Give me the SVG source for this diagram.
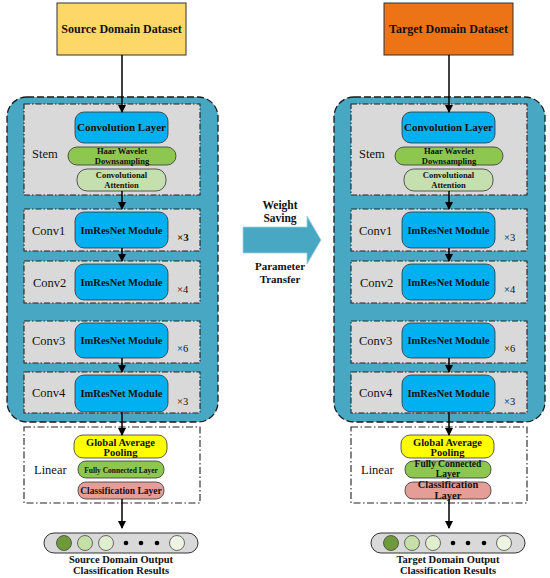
<svg xmlns="http://www.w3.org/2000/svg" width="550" height="578" viewBox="0 0 550 578">
<defs>
<marker id="ah" markerWidth="8" markerHeight="8" refX="7" refY="4" orient="auto" markerUnits="userSpaceOnUse">
<path d="M0,0 L8,4 L0,8 Z" fill="#000"/>
</marker>
<style>
text{font-family:"Liberation Serif","DejaVu Serif",serif;fill:#111;}
.b{font-weight:bold;}
.c{text-anchor:middle;}
.teal{fill:#48A8C4;stroke:#1a1a1a;stroke-width:1.3;stroke-dasharray:7,3;}
.stage{fill:#D9D9D9;stroke:#222;stroke-width:1.1;stroke-dasharray:6,2,1.5,2;}
.lin{fill:#fff;stroke:#222;stroke-width:1.1;stroke-dasharray:7,2.5,1.5,2.5;}
.mod{fill:#00B0F0;stroke:#333;stroke-width:0.8;}
.haar{fill:#8DC74F;stroke:#333;stroke-width:0.8;}
.att{fill:#C5DFAE;stroke:#333;stroke-width:0.8;}
.gap{fill:#FFFF00;stroke:#333;stroke-width:0.8;}
.fc{fill:#8DC74F;stroke:#333;stroke-width:0.8;}
.cls{fill:#E59E97;stroke:#333;stroke-width:0.8;}
.out{fill:#D9D9D9;stroke:#333;stroke-width:1;}
.conn{stroke:#000;stroke-width:1.5;fill:none;marker-end:url(#ah);}
.lbl{font-size:12.5px;}
</style>
</defs>
<rect width="550" height="578" fill="#fff"/>

<!-- LEFT COLUMN -->
<g id="source-dataset"><rect x="57" y="3" width="129" height="52" fill="#FDD868" stroke="#333" stroke-width="1"/><text x="121.5" y="33" class="b c" font-size="12">Source Domain Dataset</text></g>
<g id="left-backbone"><rect x="7" y="97" width="211" height="325" rx="20" class="teal"/></g>
<g id="left-stem">
<rect x="24" y="104" width="176" height="91" class="stage"/>
<text x="32" y="158" class="lbl">Stem</text>
<rect x="75" y="112" width="93" height="31" rx="9" class="mod"/>
<text x="121.5" y="131" class="b c" font-size="11">Convolution Layer</text>
<rect x="68" y="147" width="108" height="18" rx="9" class="haar"/>
<text x="122" y="154" class="b c" font-size="8.5">Haar Wavelet</text>
<text x="122" y="164" class="b c" font-size="8.5">Downsampling</text>
<rect x="77" y="169" width="89" height="22" rx="10" class="att"/>
<text x="121.5" y="178" class="b c" font-size="8.5">Convolutional</text>
<text x="121.5" y="188" class="b c" font-size="8.5">Attention</text>
</g>
<g id="left-conv1"><rect x="24" y="209" width="176" height="42" class="stage"/><text x="32" y="235" class="lbl">Conv1</text><rect x="75" y="212" width="93" height="36" rx="9" class="mod"/><text x="121.5" y="234" class="b c" font-size="10.5">ImResNet Module</text><text x="177" y="241" class="b" font-size="11">×3</text></g>
<g id="left-conv2"><rect x="24" y="261" width="176" height="42" class="stage"/><text x="33" y="287" class="lbl">Conv2</text><rect x="75" y="264" width="93" height="36" rx="9" class="mod"/><text x="121.5" y="286" class="b c" font-size="10.5">ImResNet Module</text><text x="177" y="293" font-size="10.5">×4</text></g>
<g id="left-conv3"><rect x="24" y="321" width="176" height="42" class="stage"/><text x="32" y="345" class="lbl">Conv3</text><rect x="75" y="323" width="93" height="35" rx="9" class="mod"/><text x="121.5" y="344" class="b c" font-size="10.5">ImResNet Module</text><text x="177" y="352" font-size="10.5">×6</text></g>
<g id="left-conv4"><rect x="24" y="372" width="176" height="41" class="stage"/><text x="32" y="397" class="lbl">Conv4</text><rect x="75" y="375" width="93" height="37" rx="9" class="mod"/><text x="121.5" y="397" class="b c" font-size="10.5">ImResNet Module</text><text x="177" y="405" font-size="10.5">×3</text></g>
<g id="left-linear">
<rect x="24" y="427" width="176" height="76" class="lin"/>
<text x="34" y="474" class="lbl">Linear</text>
<rect x="74" y="435" width="93" height="23" rx="9" class="gap"/>
<text x="120.5" y="446" class="b c" font-size="10.5">Global Average</text>
<text x="120.5" y="456" class="b c" font-size="10.5">Pooling</text>
<rect x="78" y="461" width="86" height="17" rx="8" class="fc"/>
<text x="121" y="473" class="b c" font-size="7.5">Fully Connected Layer</text>
<rect x="78" y="482" width="86" height="17" rx="8" class="cls"/>
<text x="121" y="494" class="b c" font-size="9.5">Classification Layer</text>
</g>
<g id="left-output">
<rect x="44" y="533" width="154" height="20" rx="10" class="out"/>
<circle cx="64" cy="543" r="7.5" fill="#6E9A3C" stroke="#333" stroke-width="0.7"/>
<circle cx="85" cy="543" r="7.5" fill="#C6DFA9" stroke="#333" stroke-width="0.7"/>
<circle cx="106" cy="543" r="7.5" fill="#E0EDCF" stroke="#333" stroke-width="0.7"/>
<circle cx="126" cy="543" r="2.3" fill="#000"/>
<circle cx="141" cy="543" r="2.3" fill="#000"/>
<circle cx="157" cy="543" r="2.3" fill="#000"/>
<circle cx="177" cy="543" r="7.5" fill="#EEF4E4" stroke="#333" stroke-width="0.7"/>
<text x="121" y="563" class="b c" font-size="10.5">Source Domain Output</text>
<text x="121" y="574" class="b c" font-size="10.5">Classification Results</text>
</g>

<!-- TRANSFER ARROW -->
<g id="transfer">
<path d="M243,227 L307,227 L307,216 L321,240 L307,264 L307,253 L243,253 Z" fill="#48A8C4" stroke="#9FD0DE" stroke-width="0.8"/>
<text x="280" y="209" class="b c" font-size="11.5">Weight</text>
<text x="280" y="222" class="b c" font-size="11.5">Saving</text>
<text x="280" y="270" class="b c" font-size="11">Parameter</text>
<text x="280" y="283" class="b c" font-size="11">Transfer</text>
</g>

<!-- RIGHT COLUMN -->
<g transform="translate(327,0)">
<g id="target-dataset"><rect x="57" y="3" width="129" height="52" fill="#EC7316" stroke="#333" stroke-width="1"/><text x="121.5" y="33" class="b c" font-size="12">Target Domain Dataset</text></g>
<g id="right-backbone"><rect x="7" y="97" width="211" height="325" rx="20" class="teal"/></g>
<g id="right-stem">
<rect x="24" y="104" width="176" height="91" class="stage"/>
<text x="32" y="158" class="lbl">Stem</text>
<rect x="75" y="112" width="93" height="31" rx="9" class="mod"/>
<text x="121.5" y="131" class="b c" font-size="11">Convolution Layer</text>
<rect x="68" y="147" width="108" height="18" rx="9" class="haar"/>
<text x="122" y="154" class="b c" font-size="8.5">Haar Wavelet</text>
<text x="122" y="164" class="b c" font-size="8.5">Downsampling</text>
<rect x="77" y="169" width="89" height="22" rx="10" class="att"/>
<text x="121.5" y="178" class="b c" font-size="8.5">Convolutional</text>
<text x="121.5" y="188" class="b c" font-size="8.5">Attention</text>
</g>
<g id="right-conv1"><rect x="24" y="209" width="176" height="42" class="stage"/><text x="32" y="235" class="lbl">Conv1</text><rect x="75" y="212" width="93" height="36" rx="9" class="mod"/><text x="121.5" y="234" class="b c" font-size="10.5">ImResNet Module</text><text x="177" y="241" font-size="10.5">×3</text></g>
<g id="right-conv2"><rect x="24" y="261" width="176" height="42" class="stage"/><text x="33" y="287" class="lbl">Conv2</text><rect x="75" y="264" width="93" height="36" rx="9" class="mod"/><text x="121.5" y="286" class="b c" font-size="10.5">ImResNet Module</text><text x="177" y="293" font-size="10.5">×4</text></g>
<g id="right-conv3"><rect x="24" y="321" width="176" height="42" class="stage"/><text x="32" y="345" class="lbl">Conv3</text><rect x="75" y="323" width="93" height="35" rx="9" class="mod"/><text x="121.5" y="344" class="b c" font-size="10.5">ImResNet Module</text><text x="177" y="352" font-size="10.5">×6</text></g>
<g id="right-conv4"><rect x="24" y="372" width="176" height="41" class="stage"/><text x="32" y="397" class="lbl">Conv4</text><rect x="75" y="375" width="93" height="37" rx="9" class="mod"/><text x="121.5" y="397" class="b c" font-size="10.5">ImResNet Module</text><text x="177" y="405" font-size="10.5">×3</text></g>
<g id="right-linear">
<rect x="24" y="427" width="176" height="76" class="lin"/>
<text x="34" y="474" class="lbl">Linear</text>
<rect x="74" y="435" width="93" height="23" rx="9" class="gap"/>
<text x="120.5" y="446" class="b c" font-size="10.5">Global Average</text>
<text x="120.5" y="456" class="b c" font-size="10.5">Pooling</text>
<rect x="78" y="461" width="86" height="17" rx="8" class="fc"/>
<text x="121" y="467" class="b c" font-size="9.5">Fully Connected</text>
<text x="121" y="477" class="b c" font-size="9.5">Layer</text>
<rect x="78" y="482" width="86" height="17" rx="8" class="cls"/>
<text x="121" y="488" class="b c" font-size="10.5">Classification</text>
<text x="121" y="499" class="b c" font-size="10.5">Layer</text>
</g>
<g id="right-output">
<rect x="44" y="533" width="154" height="20" rx="10" class="out"/>
<circle cx="64" cy="543" r="7.5" fill="#6E9A3C" stroke="#333" stroke-width="0.7"/>
<circle cx="85" cy="543" r="7.5" fill="#C6DFA9" stroke="#333" stroke-width="0.7"/>
<circle cx="106" cy="543" r="7.5" fill="#E0EDCF" stroke="#333" stroke-width="0.7"/>
<circle cx="126" cy="543" r="2.3" fill="#000"/>
<circle cx="141" cy="543" r="2.3" fill="#000"/>
<circle cx="157" cy="543" r="2.3" fill="#000"/>
<circle cx="177" cy="543" r="7.5" fill="#EEF4E4" stroke="#333" stroke-width="0.7"/>
<text x="121" y="563" class="b c" font-size="10.5">Target Domain Output</text>
<text x="121" y="574" class="b c" font-size="10.5">Classification Results</text>
</g>
</g>

<!-- CONNECTORS -->
<g id="connectors">
<line x1="122" y1="55" x2="122" y2="112" class="conn"/>
<line x1="122" y1="191" x2="122" y2="209" class="conn"/>
<line x1="122" y1="248" x2="122" y2="261" class="conn"/>
<line x1="122" y1="358" x2="122" y2="372" class="conn"/>
<line x1="122" y1="412" x2="122" y2="435" class="conn"/>
<line x1="122" y1="499" x2="122" y2="528" class="conn"/>
<line x1="449" y1="55" x2="449" y2="112" class="conn"/>
<line x1="449" y1="191" x2="449" y2="209" class="conn"/>
<line x1="449" y1="248" x2="449" y2="261" class="conn"/>
<line x1="449" y1="358" x2="449" y2="372" class="conn"/>
<line x1="449" y1="412" x2="449" y2="435" class="conn"/>
<line x1="449" y1="499" x2="449" y2="528" class="conn"/>
</g>
</svg>
